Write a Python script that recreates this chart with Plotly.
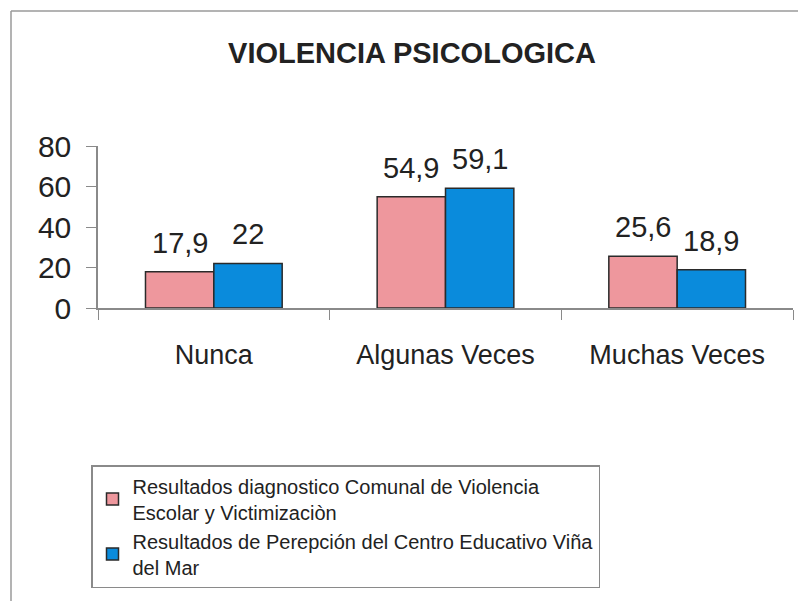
import plotly.graph_objects as go

categories = ["Nunca", "Algunas Veces", "Muchas Veces"]
series1_name = "Resultados diagnostico Comunal de Violencia<br>Escolar y Victimizaciòn"
series2_name = "Resultados de Perepción del Centro Educativo Viña<br>del Mar"
series1_values = [17.9, 54.9, 25.6]
series2_values = [22, 59.1, 18.9]
y_ticks = [0, 20, 40, 60, 80]

FONT = "Liberation Sans, Arial, sans-serif"
W, H = 798, 601
X0, X1 = 98, 793          # plot area, px
Y0, Y1 = 308, 146          # y=0 and y=80, px from top
BARGAP = 0.41


def fmt(v):
    return f"{v:g}".replace(".", ",")


colors = ["#EE979D", "#0A8BDC"]
names = [series1_name, series2_name]
values = [series1_values, series2_values]

fig = go.Figure()
for name, vals, col in zip(names, values, colors):
    fig.add_trace(go.Bar(
        x=categories, y=vals, name=name,
        marker=dict(color=col, line=dict(color="#2a2a2a", width=1.5)),
    ))

# value labels above bars
cat_px = (X1 - X0) / len(categories)
bar_px = cat_px * (1 - BARGAP) / 2
for i, vals in enumerate(values):
    for c, v in zip(categories, vals):
        fig.add_annotation(x=c, y=v, xref="x", yref="y", text=fmt(v), showarrow=False,
                           xanchor="center", yanchor="bottom",
                           xshift=(i - 0.5) * bar_px, yshift=11,
                           font=dict(size=29, family=FONT, color="#222"))

fig.update_layout(
    width=W, height=H,
    margin=dict(l=0, r=0, t=0, b=0, autoexpand=False),
    paper_bgcolor="white", plot_bgcolor="white",
    font=dict(family=FONT, color="#222"),
    barmode="group", bargap=BARGAP, bargroupgap=0,
    title=dict(text="<b>VIOLENCIA PSICOLOGICA</b>", x=412 / W, xanchor="center",
               y=1 - 53 / H, yanchor="middle", font=dict(size=29, family=FONT, color="#222")),
    xaxis=dict(domain=[X0 / W, X1 / W], showline=True, linecolor="#8a8a8a", linewidth=1.5,
               ticks="outside", tickson="boundaries", ticklen=10, tickcolor="#8a8a8a",
               tickfont=dict(size=27, family=FONT, color="#222"), ticklabelstandoff=22,
               showgrid=False, zeroline=False, automargin=False),
    yaxis=dict(domain=[(H - Y0) / H, (H - Y1) / H], range=[0, 80],
               tickvals=y_ticks, showline=True, linecolor="#8a8a8a", linewidth=1.5,
               ticks="outside", ticklen=10, tickcolor="#8a8a8a",
               tickfont=dict(size=30, family=FONT, color="#222"), ticklabelstandoff=9,
               showgrid=False, zeroline=False, automargin=False),
    legend=dict(x=91 / W, xanchor="left", y=1 - 465 / H, yanchor="top",
                bordercolor="#8a8a8a", borderwidth=1.5, bgcolor="white",
                font=dict(size=20, family=FONT, color="#222"),
                tracegroupgap=0, itemwidth=30),
    showlegend=True,
)

# outer chart-area border (top and left edges visible in the reference)
fig.add_shape(type="line", xref="paper", yref="paper", x0=11 / W, x1=1, y0=1 - 11 / H, y1=1 - 11 / H,
              line=dict(color="#9a9a9a", width=1.5))
fig.add_shape(type="line", xref="paper", yref="paper", x0=11 / W, x1=11 / W, y0=0, y1=1 - 11 / H,
              line=dict(color="#9a9a9a", width=1.5))

fig.write_html("out.html", config={"displayModeBar": False},
               post_script="document.body.style.margin='0';document.body.style.overflow='hidden';")
